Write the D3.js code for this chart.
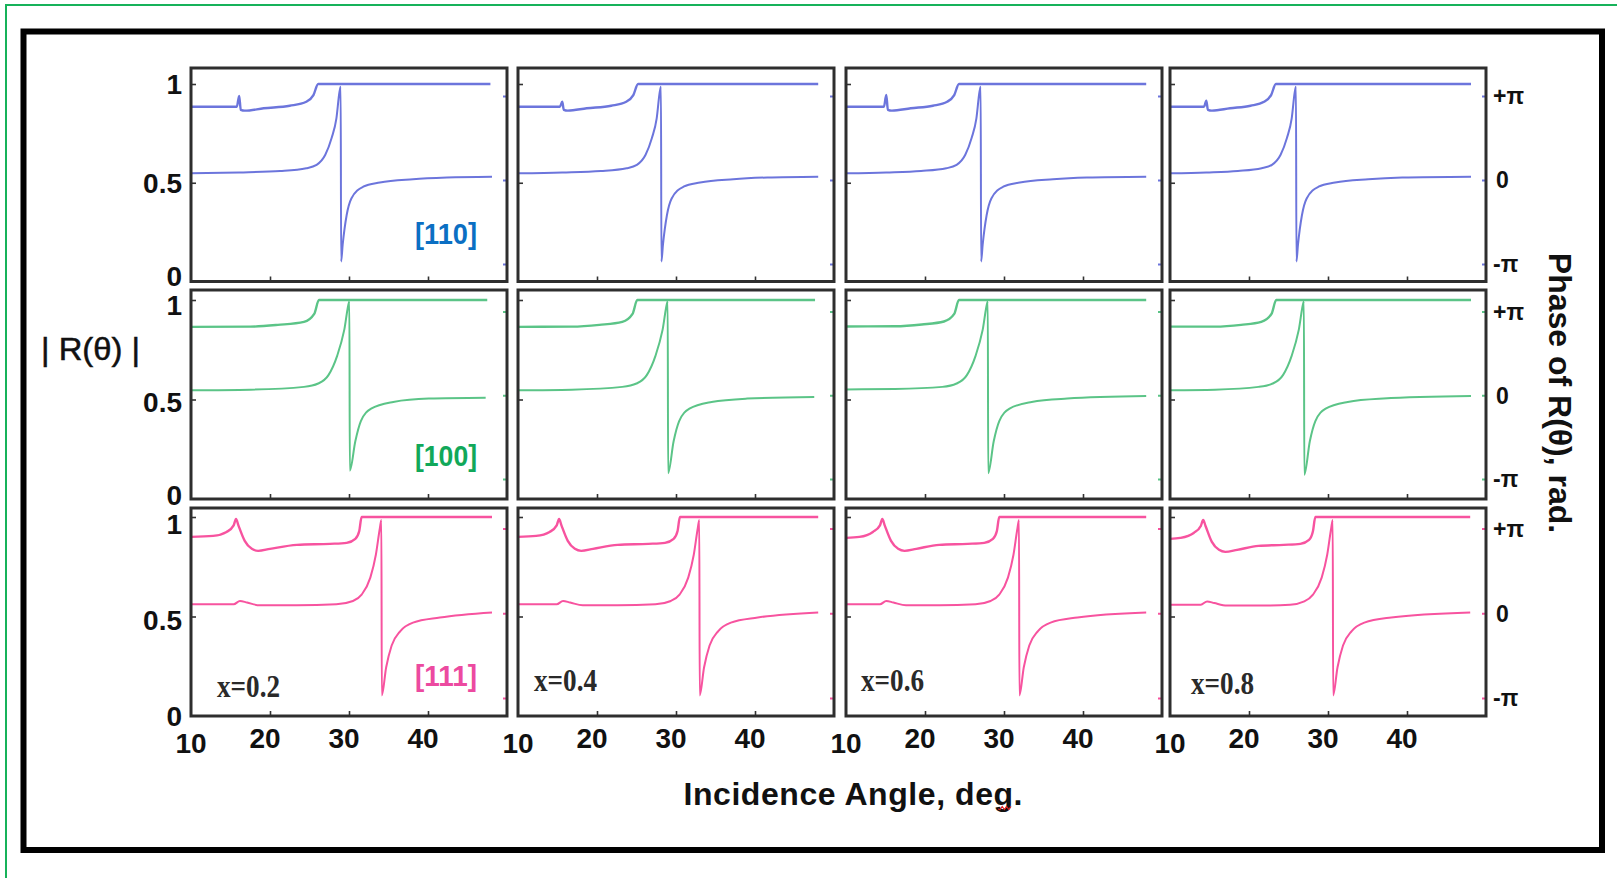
<!DOCTYPE html>
<html>
<head>
<meta charset="utf-8">
<script src="https://cdn.jsdelivr.net/npm/d3@7"></script>
<style>
  body { margin: 0; background: #fff; }
  svg { display: block; }
</style>
</head>
<body>
<div id="chart"></div>
<script>
// tick values / labels
let xTicks = [10, 20, 30, 40]
let ampTicks = [0, 0.5, 1]
let phaseTicks = [1, 0, -1]               // in units of pi
let phaseTickLabels = ["+π", "0", "-π"]
let orientations = ["[110]", "[100]", "[111]"]
let compositions = ["x=0.2", "x=0.4", "x=0.6", "x=0.8"]

// |R(theta)| : [angle deg, amplitude], one list per composition
let amp110 = [
  [[10, .885], [15.8, .885], [16.1, .94], [16.3, .869], [16.8, .865], [19.2, .877], [22.5, .89], [24.6, .91], [25.5, .944], [26.1, 1], [47.9, 1]],
  [[10, .885], [15.3, .885], [15.6, .91], [15.8, .869], [16.3, .865], [18.7, .877], [21.8, .89], [23.7, .91], [24.6, .944], [25.2, 1], [48, 1]],
  [[10, .885], [14.8, .885], [15.1, .945], [15.3, .869], [15.8, .865], [18.2, .877], [21, .89], [22.8, .91], [23.7, .944], [24.3, 1], [48, 1]],
  [[10, .885], [14.3, .885], [14.6, .915], [14.8, .869], [15.3, .865], [17.6, .877], [20.2, .89], [21.9, .91], [22.8, .944], [23.4, 1], [48.1, 1]]
]
// phase of R(theta) : [angle deg, phase / pi]
let phase110 = [
  [[10, .08], [16.1, .09], [21.3, .107], [24.6, .14], [25.9, .18], [27, .3], [27.8, .5], [28.4, .73], [28.8, 1.05], [28.95, 1.11], [29, -.97], [29.2, -.77], [29.7, -.42], [30.3, -.22], [31.8, -.08], [33.9, -.03], [38.1, .01], [42.4, .03], [48.1, .04]],
  [[10, .08], [15.6, .09], [20.5, .107], [23.75, .14], [25.05, .18], [26.15, .3], [26.95, .5], [27.55, .73], [27.95, 1.05], [28.1, 1.11], [28.15, -.97], [28.35, -.77], [28.85, -.42], [29.45, -.22], [30.95, -.08], [33.05, -.03], [37.25, .01], [41.55, .03], [48, .04]],
  [[10, .08], [15.1, .09], [19.5, .107], [22.7, .14], [24, .18], [25.1, .3], [25.9, .5], [26.5, .73], [26.9, 1.05], [27.05, 1.11], [27.1, -.97], [27.3, -.77], [27.8, -.42], [28.4, -.22], [29.9, -.08], [32, -.03], [36.2, .01], [40.5, .03], [48, .04]],
  [[10, .08], [14.6, .09], [18.6, .107], [21.6, .14], [22.9, .18], [24, .3], [24.8, .5], [25.4, .73], [25.8, 1.05], [25.95, 1.11], [26, -.97], [26.2, -.77], [26.7, -.42], [27.3, -.22], [28.8, -.08], [30.9, -.03], [35.1, .01], [39.4, .03], [48.1, .04]]
]

let amp100 = [
  [[10, .865], [17.5, .866], [21, .875], [24.3, .89], [25.6, .93], [26.2, 1], [47.5, 1]],
  [[10, .865], [16.8, .866], [20.3, .875], [23.2, .89], [24.5, .93], [25.1, 1], [47.6, 1]],
  [[10, .867], [16.2, .868], [19.6, .877], [22.4, .892], [23.7, .93], [24.3, 1], [48, 1]],
  [[10, .866], [15.7, .866], [19, .875], [21.55, .89], [22.85, .93], [23.45, 1], [48.1, 1]]
]
let phase100 = [
  [[10, .06], [17.5, .067], [24.3, .1], [26.1, .14], [27.4, .24], [28.5, .47], [29.4, .78], [30, 1.11], [30.05, 1.12], [30.1, -.9], [30.8, -.55], [31.5, -.31], [32.8, -.16], [35.6, -.08], [40.1, -.04], [47.3, -.03]],
  [[10, .06], [16.8, .067], [23.2, .1], [25, .14], [26.3, .24], [27.4, .47], [28.3, .78], [28.9, 1.11], [28.95, 1.12], [29, -.93], [29.7, -.55], [30.4, -.31], [31.7, -.16], [34.5, -.08], [39, -.04], [47.5, -.02]],
  [[10, .07], [16.2, .075], [22.2, .1], [24, .14], [25.3, .24], [26.4, .47], [27.3, .78], [27.9, 1.11], [27.95, 1.12], [28, -.93], [28.7, -.55], [29.4, -.31], [30.7, -.16], [33.5, -.08], [38, -.04], [48, -.01]],
  [[10, .06], [15.7, .067], [21.2, .1], [23, .14], [24.3, .24], [25.4, .47], [26.3, .78], [26.9, 1.11], [26.95, 1.12], [27, -.95], [27.7, -.55], [28.4, -.31], [29.7, -.16], [32.5, -.08], [37, -.04], [48.1, -.01]]
]

let amp111 = [
  [[10, .9], [12.8, .905], [14.5, .925], [15.4, .958], [15.7, .99], [16, .958], [16.8, .88], [17.7, .84], [18.5, .83], [20, .84], [23.4, .86], [27.6, .865], [29.7, .87], [30.8, .89], [31.3, .93], [31.6, 1], [48.1, 1]],
  [[10, .9], [12.3, .905], [14, .925], [14.9, .958], [15.2, .99], [15.5, .958], [16.3, .88], [17.2, .84], [18, .83], [19.5, .84], [22.6, .86], [26.5, .865], [28.6, .87], [29.7, .89], [30.2, .93], [30.5, 1], [48, 1]],
  [[10, .895], [11.7, .9], [13.4, .925], [14.3, .958], [14.6, .99], [14.9, .958], [15.7, .88], [16.6, .84], [17.4, .83], [18.9, .84], [21.8, .86], [25.4, .865], [27.5, .87], [28.6, .89], [29.1, .93], [29.4, 1], [48, 1]],
  [[10, .89], [11.3, .895], [13, .92], [13.9, .955], [14.2, .985], [14.5, .955], [15.3, .875], [16.2, .835], [17, .825], [18.5, .835], [21.2, .855], [24.4, .86], [26.5, .865], [27.6, .885], [28.1, .93], [28.4, 1], [48, 1]]
]
let phase111 = [
  [[10, .106], [15.4, .106], [16.2, .145], [17.1, .126], [18.7, .094], [23.4, .094], [28.4, .106], [30.5, .145], [31.6, .22], [32.7, .42], [33.4, .69], [33.9, 1], [34.1, 1.1], [34.15, -.97], [34.7, -.64], [35.4, -.38], [36.5, -.21], [38.1, -.11], [41.5, -.05], [48.1, .01]],
  [[10, .106], [14.9, .106], [15.7, .145], [16.6, .126], [18.2, .094], [22.6, .094], [27.4, .106], [29.35, .145], [30.45, .22], [31.55, .42], [32.25, .69], [32.75, 1], [32.95, 1.1], [33, -.97], [33.55, -.64], [34.25, -.38], [35.35, -.21], [36.95, -.11], [40.35, -.05], [48, .01]],
  [[10, .106], [14.3, .106], [15.1, .145], [16, .126], [17.6, .094], [21.8, .094], [26.4, .106], [28.3, .145], [29.4, .22], [30.5, .42], [31.2, .69], [31.7, 1], [31.9, 1.1], [31.95, -.97], [32.5, -.64], [33.2, -.38], [34.3, -.21], [35.9, -.11], [39.3, -.05], [48, .01]],
  [[10, .1], [13.9, .1], [14.7, .14], [15.6, .12], [17.2, .09], [21.2, .09], [25.2, .1], [27, .14], [28.1, .22], [29.2, .42], [29.9, .69], [30.4, 1], [30.6, 1.1], [30.65, -.97], [31.2, -.64], [31.9, -.38], [33, -.21], [34.6, -.11], [38, -.05], [48, .01]]
]

let ampRows = [amp110, amp100, amp111]
let phaseRows = [phase110, phase100, phase111]

// layout
let W = 1617, H = 878
let colLeft = [191, 518, 846, 1170], panelW = 316
let rowTop = [68, 290, 508], rowBot = [281.5, 499, 716]
let oneY = [84, 300, 517]                        // where |R| = 1 sits
let piY = [[96, 264], [311.5, 479], [528.5, 698]] // +pi, -pi
let labelShift = { 0: [-6, -4, 0], 0.5: [0, 2, 3], 1: [0, 5, 7] }  // nudges of the left labels per row
let lineColor = ["#6c75dc", "#5bc487", "#f7539f"]
let tagColor = ["#0b6fc3", "#11a85a", "#ec4aa0"]
let tagY = [234, 456, 676]
let compX = [217, 534, 861, 1191], compY = [686, 680, 680, 683]
let sans = "'Liberation Sans', Arial, sans-serif"
let serif = "'Liberation Serif', 'Times New Roman', serif"

let svg = d3.select("#chart").append("svg")
  .attr("width", W).attr("height", H)
  .style("background", "#fff")

// outer green frame (only top and left edges are in view) and black frame
svg.append("rect").attr("x", 6).attr("y", 5).attr("width", 2000).attr("height", 2000)
  .attr("fill", "none").attr("stroke", "#17b25a").attr("stroke-width", 2)
svg.append("rect").attr("x", 23.5).attr("y", 31.5).attr("width", 1578.5).attr("height", 818.5)
  .attr("fill", "none").attr("stroke", "#000").attr("stroke-width", 6)

ampRows.forEach((ampRow, r) => {
  ampRow.forEach((ampPts, c) => {
    let x = d3.scaleLinear().domain([10, 50]).range([colLeft[c], colLeft[c] + panelW])
    let yA = d3.scaleLinear().domain([0, 1]).range([rowBot[r], oneY[r]])
    let yP = d3.scaleLinear().domain([-1, 1]).range([piY[r][1], piY[r][0]])
    let g = svg.append("g")

    let ampLine = d3.line().x(d => x(d[0])).y(d => yA(d[1])).curve(d3.curveMonotoneX)
    let phLine = d3.line().x(d => x(d[0])).y(d => yP(d[1])).curve(d3.curveMonotoneX)

    g.append("path").attr("d", phLine(phaseRows[r][c]))
      .attr("fill", "none").attr("stroke", lineColor[r]).attr("stroke-width", 2)
    g.append("path").attr("d", ampLine(ampPts))
      .attr("fill", "none").attr("stroke", lineColor[r]).attr("stroke-width", 2.4)

    // small inward ticks
    g.append("g").attr("transform", `translate(0,${rowBot[r]})`)
      .call(d3.axisBottom(x).tickValues(xTicks.slice(1)).tickSize(-5).tickFormat(""))
      .call(a => a.select(".domain").remove())
      .selectAll("line").attr("stroke", "#333").attr("stroke-width", 1.6)
    g.append("g").attr("transform", `translate(${colLeft[c]},0)`)
      .call(d3.axisLeft(yA).tickValues(ampTicks.slice(1)).tickSize(-5).tickFormat(""))
      .call(a => a.select(".domain").remove())
      .selectAll("line").attr("stroke", "#333").attr("stroke-width", 1.6)
    g.append("g").attr("transform", `translate(${colLeft[c] + panelW},0)`)
      .call(d3.axisRight(yP).tickValues(phaseTicks).tickSize(-4).tickFormat(""))
      .call(a => a.select(".domain").remove())
      .selectAll("line").attr("stroke", lineColor[r]).attr("stroke-width", 2)

    g.append("rect")
      .attr("x", colLeft[c]).attr("y", rowTop[r])
      .attr("width", panelW).attr("height", rowBot[r] - rowTop[r])
      .attr("fill", "none").attr("stroke", "#2e2e2e").attr("stroke-width", 3)

    // left tick labels
    if (c === 0) {
      g.selectAll(".al").data(ampTicks).join("text")
        .attr("x", colLeft[0] - 9).attr("y", d => yA(d) + labelShift[d][r]).attr("dy", "0.36em")
        .attr("text-anchor", "end")
        .style("font", `bold 28px ${sans}`).attr("fill", "#111")
        .text(d => d)
      g.append("text")
        .attr("x", colLeft[0] + 286).attr("y", tagY[r]).attr("dy", "0.36em")
        .attr("text-anchor", "end")
        .attr("textLength", 62).attr("lengthAdjust", "spacingAndGlyphs")
        .style("font", `bold 29px ${sans}`).attr("fill", tagColor[r])
        .text(orientations[r])
    }
    // right tick labels
    if (c === 3) {
      g.selectAll(".pl").data(phaseTicks).join("text")
        .attr("x", colLeft[3] + panelW + 7).attr("y", d => yP(d)).attr("dy", "0.36em")
        .attr("dx", d => d === 0 ? 3 : 0)
        .style("font", `bold 23px ${sans}`).attr("fill", "#111")
        .text((d, i) => phaseTickLabels[i])
    }
    // bottom row: x tick labels and composition
    if (r === 2) {
      g.selectAll(".xl").data(xTicks).join("text")
        .attr("x", d => x(d)).attr("dx", d => d === 10 ? 0 : -5)
        .attr("y", d => d === 10 ? 753 : 748)
        .attr("text-anchor", "middle")
        .style("font", `bold 28px ${sans}`).attr("fill", "#111")
        .text(d => d)
      g.append("text")
        .attr("x", compX[c]).attr("y", compY[c]).attr("dy", "0.34em")
        .attr("textLength", 63).attr("lengthAdjust", "spacingAndGlyphs")
        .style("font", `bold 32px ${serif}`).attr("fill", "#2a2a2a")
        .text(compositions[c])
    }
  })
})

// axis titles
svg.append("text")
  .attr("x", 41).attr("y", 349).attr("dy", "0.35em")
  .attr("textLength", 99).attr("lengthAdjust", "spacingAndGlyphs")
  .style("font", `31px ${sans}`).attr("fill", "#111")
  .attr("stroke", "#111").attr("stroke-width", 0.5)
  .text("| R(θ) |")

svg.append("text")
  .attr("x", 853).attr("y", 805)
  .attr("text-anchor", "middle")
  .attr("textLength", 339).attr("lengthAdjust", "spacing")
  .style("font", `bold 32px ${sans}`).attr("fill", "#111")
  .text("Incidence Angle, deg.")

svg.append("text")
  .attr("transform", "translate(1549,393) rotate(90)")
  .attr("text-anchor", "middle")
  .style("font", `bold 32px ${sans}`).attr("fill", "#111")
  .text("Phase of R(θ), rad.")

// spell-check squiggle under the "g" of deg.
let sq = d3.path()
sq.moveTo(998, 809)
d3.range(0, 6).forEach(i => sq.lineTo(1000 + i * 2.2, i % 2 ? 806.5 : 809.5))
svg.append("path").attr("d", sq.toString()).attr("fill", "none")
  .attr("stroke", "#e02020").attr("stroke-width", 1.2)
</script>
</body>
</html>
